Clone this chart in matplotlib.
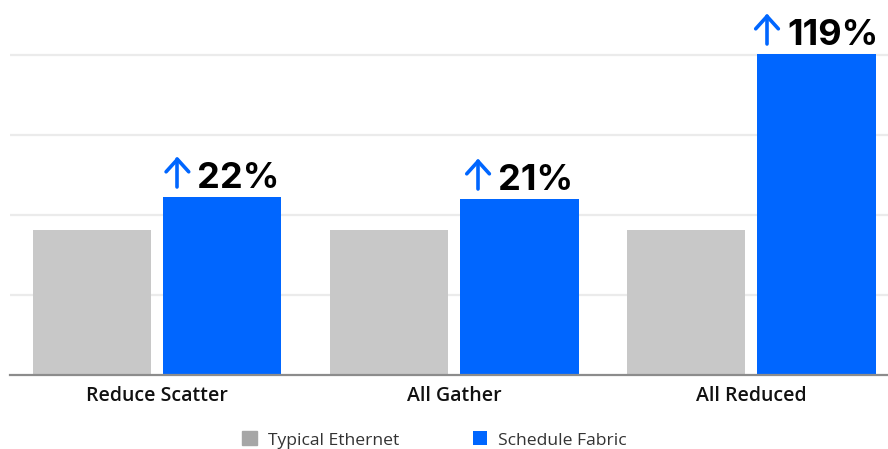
import matplotlib
matplotlib.use("Agg")
import matplotlib.pyplot as plt
import numpy as np
from matplotlib.lines import Line2D
from matplotlib.offsetbox import AnnotationBbox, DrawingArea, HPacker, TextArea

categories = ["Reduce Scatter", "All Gather", "All Reduced"]
typical = [36.25, 36.25, 36.25]
fabric = [44.5, 44.0, 80.25]
gains = ["22%", "21%", "119%"]

gray = "#c8c8c8"
gray_legend = "#a6a6a6"
blue = "#0066ff"

fig = plt.figure(figsize=(8.88, 4.49), dpi=100)
ax = fig.add_axes([10 / 888, 1 - 375 / 449, 878 / 888, 375 / 449])

x = np.arange(len(categories))
w = 0.40
off = 0.219
ax.bar(x - off, typical, w, color=gray, label="Typical Ethernet", zorder=2)
ax.bar(x + off, fabric, w, color=blue, label="Schedule Fabric", zorder=2)

ax.set_xlim(-0.495, 2.461)
ax.set_ylim(0, 93.75)
ax.set_yticks([20, 40, 60, 80])
ax.yaxis.grid(True, color="#ebebeb", lw=1.6, zorder=0)
ax.tick_params(axis="y", left=False, labelleft=False)
ax.tick_params(axis="x", length=0, pad=8)
ax.set_xticks(x)
ax.set_xticklabels(categories, fontsize=14, fontfamily="Open Sans", fontweight="semibold",
                   color="#111111")
for s in ["left", "right", "top"]:
    ax.spines[s].set_visible(False)
ax.spines["bottom"].set_color("#8c8c8c")
ax.spines["bottom"].set_linewidth(1.6)
ax.spines["bottom"].set_zorder(3)

# arrow + percentage label above each blue bar
aw, ah = 18.7, 21.6
for xi, val, g in zip(x, fabric, gains):
    da = DrawingArea(aw, ah, 0, 0)
    da.add_artist(Line2D([aw / 2, aw / 2], [0.5, ah - 1], color=blue, lw=2.6,
                         solid_capstyle="round"))
    da.add_artist(Line2D([1.2, aw / 2, aw - 1.2], [ah - 10, ah - 1, ah - 10], color=blue,
                         lw=2.6, solid_capstyle="round", solid_joinstyle="round"))
    ta = TextArea(g, textprops=dict(fontsize=26, fontfamily="Inter", fontweight="bold",
                                    color="#000000"))
    box = HPacker(children=[da, ta], align="baseline", pad=0, sep=5)
    ab = AnnotationBbox(box, (xi + off, val), xybox=(0, 1.5), boxcoords="offset points",
                        box_alignment=(0.5, 0), frameon=False, pad=0)
    ax.add_artist(ab)

handles, labels = ax.get_legend_handles_labels()
leg = fig.legend(handles, labels, loc="center", bbox_to_anchor=(434.5 / 888, 1 - 440 / 449),
                 ncol=2, frameon=False, handlelength=0.85, handleheight=0.85,
                 handletextpad=0.6, columnspacing=4.2,
                 prop=dict(family="Open Sans", weight="normal", size=12.6))
leg.legend_handles[0].set_color(gray_legend)
for t in leg.get_texts():
    t.set_color("#333333")

fig.savefig("out.png", dpi=100)
